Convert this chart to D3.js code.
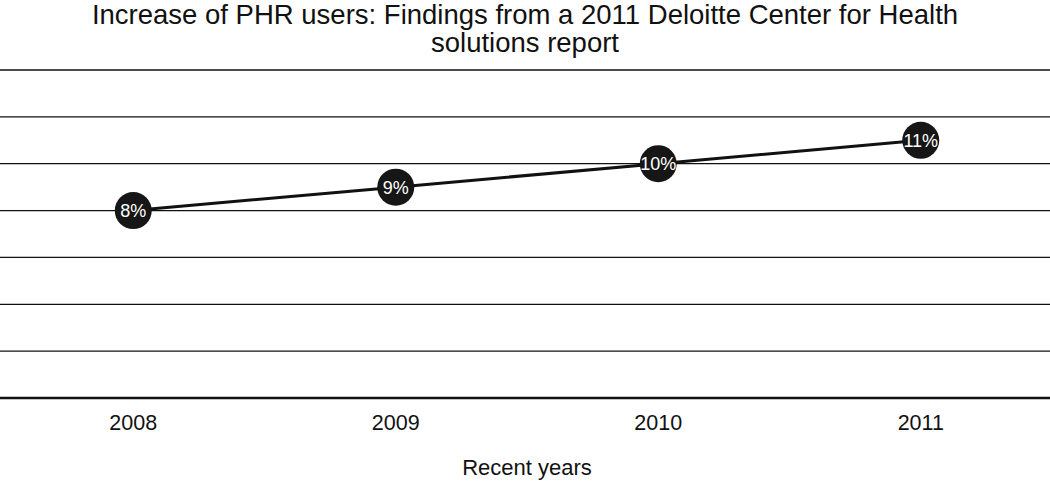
<!DOCTYPE html>
<html><head><meta charset="utf-8">
<script src="https://cdn.jsdelivr.net/npm/d3@7"></script>
<style>body{margin:0;background:#fff}svg{display:block;font-family:"Liberation Sans",Arial,sans-serif}</style>
</head><body><svg id="c" width="1050" height="481"></svg>
<script>
const years = ["2008","2009","2010","2011"];
const values = [8, 9, 10, 11];
const gridTicks = [2,4,6,8,10,12,14];
const titleLines = ["Increase of PHR users: Findings from a 2011 Deloitte Center for Health","solutions report"];
const xTitle = "Recent years";

const svg = d3.select("#c");
const x = d3.scaleBand().domain(years).range([2,1052]);
const y = d3.scaleLinear().domain([0,14]).range([398,70]);

svg.append("g").selectAll("line").data(gridTicks).join("line")
  .attr("x1",0).attr("x2",1050).attr("y1",d=>y(d)).attr("y2",d=>y(d))
  .attr("stroke","#111").attr("stroke-width",1.3);
svg.append("line").attr("x1",0).attr("x2",1050).attr("y1",y(0)).attr("y2",y(0))
  .attr("stroke","#111").attr("stroke-width",2.5);

const xAxis = svg.append("g").attr("transform",`translate(0,${y(0)})`)
  .call(d3.axisBottom(x).tickSize(0).tickPadding(17));
xAxis.select(".domain").remove();
xAxis.selectAll("text").attr("font-size",21.5).attr("fill","#111").attr("font-family","Liberation Sans, Arial, sans-serif");

const cx = (d,i)=>x(years[i])+x.bandwidth()/2;
svg.append("path").datum(values)
  .attr("d", d3.line().x((d,i)=>cx(d,i)).y(d=>y(d)))
  .attr("fill","none").attr("stroke","#111").attr("stroke-width",3);

svg.append("g").selectAll("circle").data(values).join("circle")
  .attr("cx",cx).attr("cy",d=>y(d)).attr("r",18.5).attr("fill","#161616");
svg.append("g").selectAll("text").data(values).join("text")
  .attr("x",cx).attr("y",d=>y(d)).attr("dy","0.36em").attr("text-anchor","middle")
  .attr("fill","#fff").attr("font-size",18).text(d=>d+"%");

svg.append("g").selectAll("text").data(titleLines).join("text")
  .attr("x",525).attr("y",(d,i)=>24+i*28).attr("text-anchor","middle")
  .attr("font-size",27.5).attr("fill","#111").text(d=>d);

svg.append("text").attr("x",527).attr("y",475).attr("text-anchor","middle")
  .attr("font-size",22).attr("fill","#111").text(xTitle);
</script></body></html>
